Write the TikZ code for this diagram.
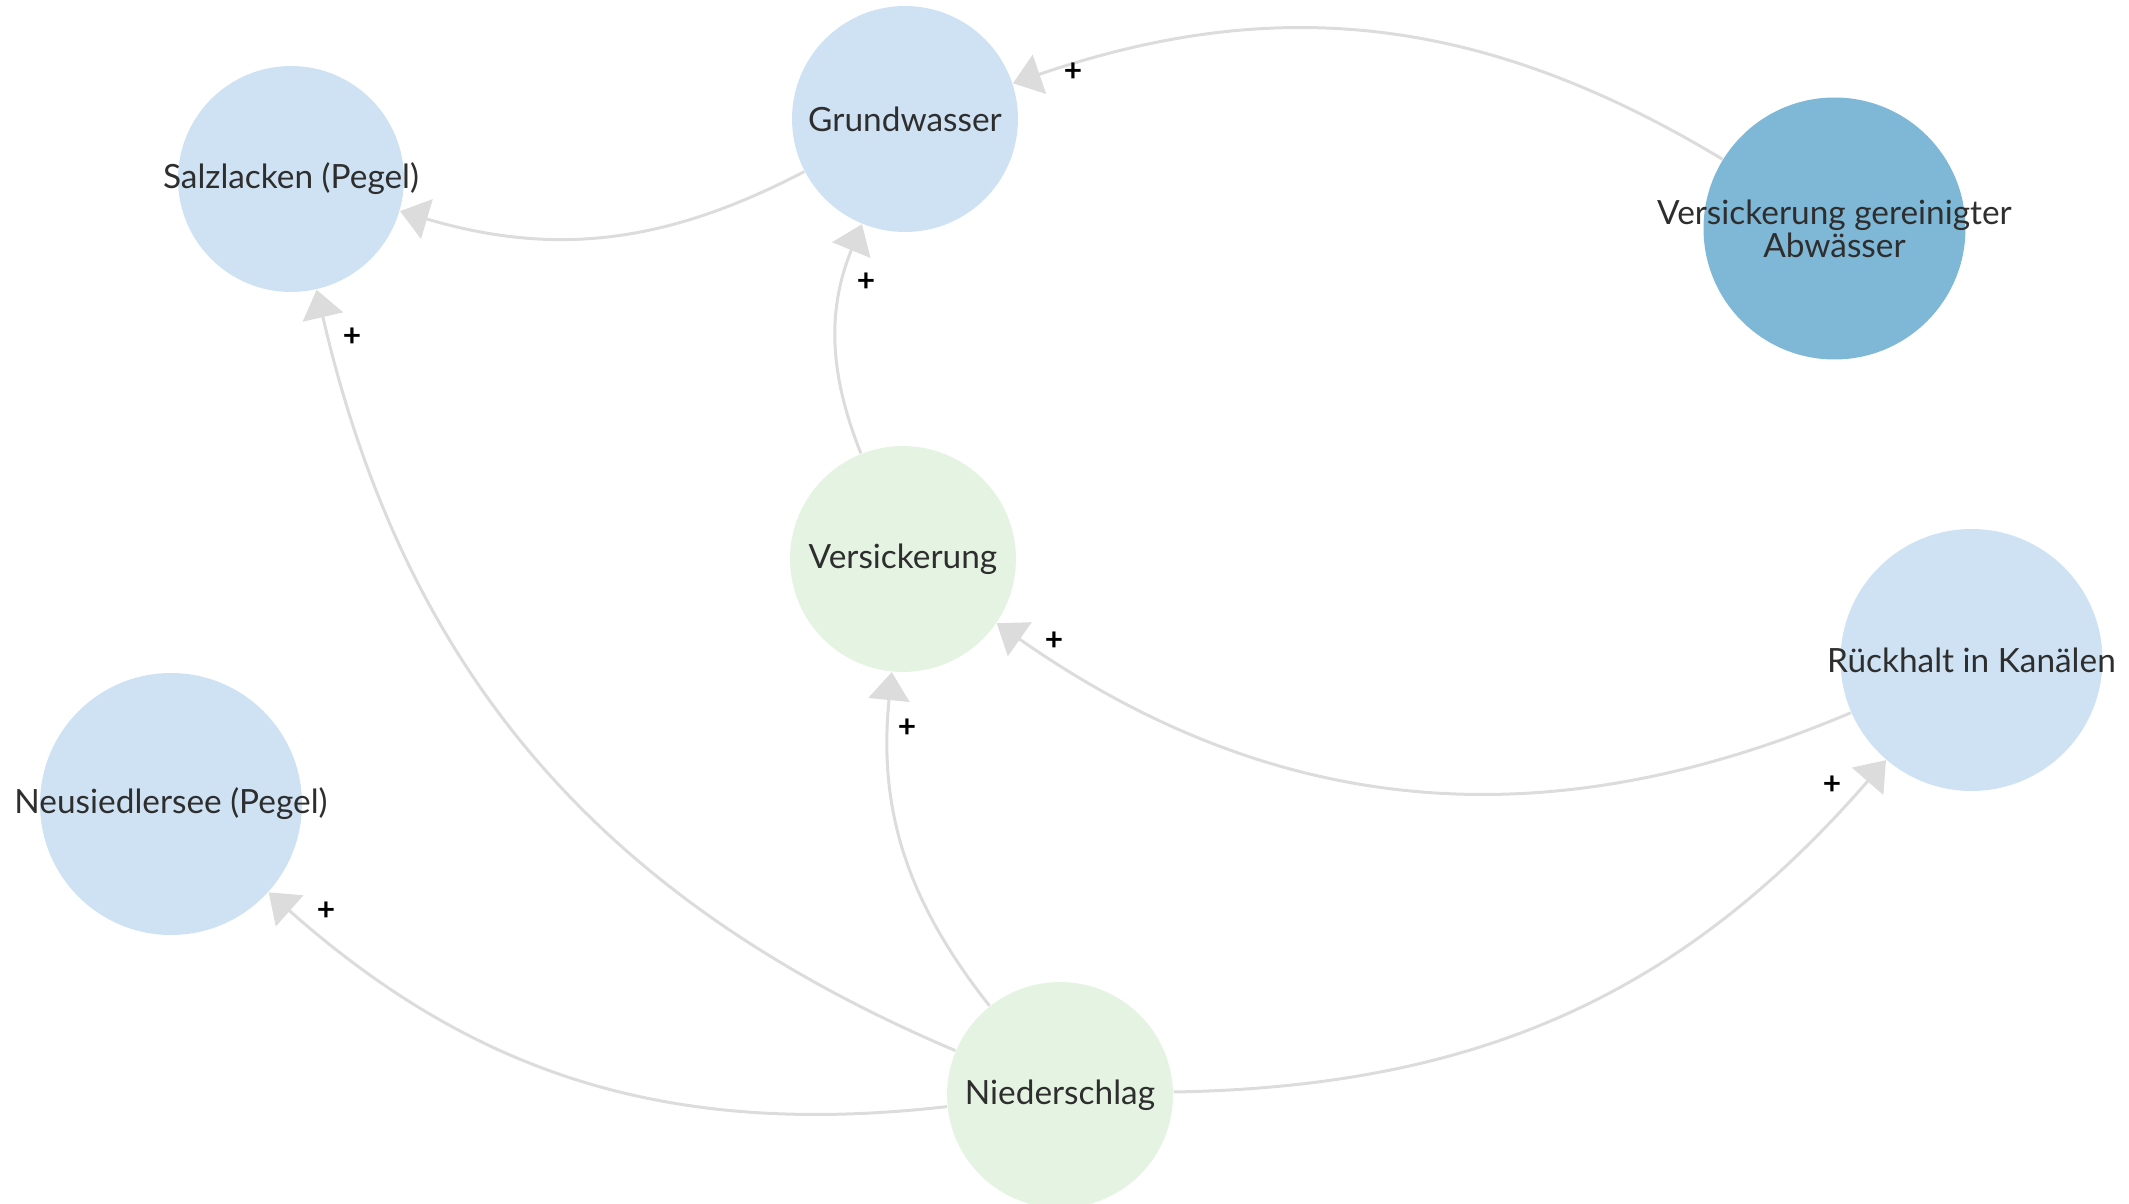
\documentclass[tikz,border=0pt]{standalone}
\usepackage{fontspec}
\setmainfont{Lato}
\usetikzlibrary{arrows.meta}

\definecolor{varblue}{HTML}{CFE2F3}
\definecolor{inblue}{HTML}{7FB7D7}
\definecolor{vargreen}{HTML}{E5F4E2}
\definecolor{linkgray}{HTML}{DCDCDC}
\definecolor{namegray}{HTML}{2E2E2E}

\tikzset{
  var/.style={circle, inner sep=0pt, minimum size=2.26cm, fill=varblue},
  varbig/.style={var, minimum size=2.62cm},
  varname/.style={text=namegray, font=\fontsize{9.5}{9.4}\selectfont, align=center, inner sep=0pt},
  link/.style={draw=linkgray, line width=0.03cm, -{Triangle[length=0.28cm,width=0.41cm]}},
  sign/.style={font=\fontsize{9}{10}\selectfont\bfseries, text=black, inner sep=0pt}
}

\begin{document}
\begin{tikzpicture}
    \useasboundingbox (0,0) rectangle (21.29,-12.04);

    % variables
    \node[var, label={[varname]center:Grundwasser}] (gw) at (9.05,-1.19) {};
    \node[var, label={[varname]center:Salzlacken (Pegel)}] (salz) at (2.91,-1.79) {};
    \node[varbig, fill=inblue, label={[varname]center:Versickerung gereinigter\\Abwässer}] (abw) at (18.345,-2.285) {};
    \node[var, fill=vargreen, label={[varname]center:Versickerung}] (vers) at (9.03,-5.59) {};
    \node[varbig, label={[varname]center:Rückhalt in Kanälen}] (rueck) at (19.715,-6.60) {};
    \node[varbig, label={[varname]center:Neusiedlersee (Pegel)}] (neu) at (1.71,-8.04) {};
    \node[var, fill=vargreen, label={[varname]center:Niederschlag}] (nied) at (10.60,-10.95) {};

    % links
    \draw[link] (gw) to[bend left=22] (salz);
    \draw[link] (abw) to[bend right=25] (gw);
    \draw[link] (vers) to[bend left=22] (gw);
    \draw[link] (nied) to[bend left=27] (salz);
    \draw[link] (nied) to[bend left=24] (neu);
    \draw[link] (nied) to[bend left=22] (vers);
    \draw[link] (nied) to[bend right=24] (rueck);
    \draw[link] (rueck) to[bend left=29] (vers);

    % polarities
    \node[sign] (s1) at (10.73,-0.72) {+};
    \node[sign] (s2) at (8.66,-2.82) {+};
    \node[sign] (s3) at (3.52,-3.37) {+};
    \node[sign] (s4) at (3.26,-9.11) {+};
    \node[sign] (s5) at (9.07,-7.28) {+};
    \node[sign] (s6) at (18.32,-7.85) {+};
    \node[sign] (s7) at (10.54,-6.41) {+};
\end{tikzpicture}
\end{document}
